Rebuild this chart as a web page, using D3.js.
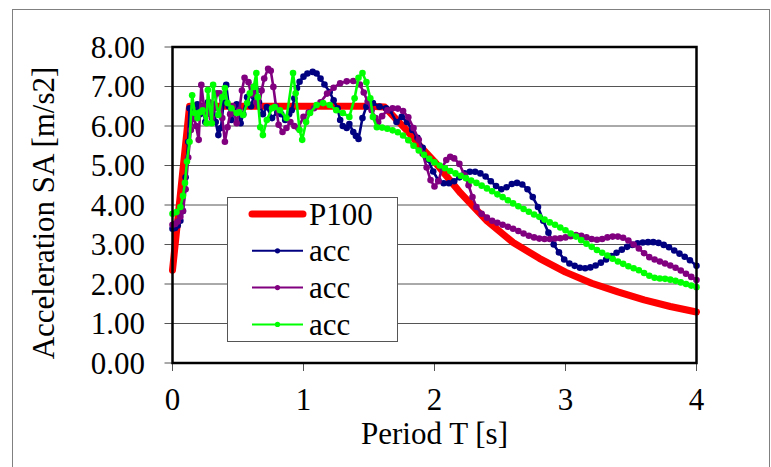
<!DOCTYPE html>
<html>
<head>
<meta charset="utf-8">
<script src="https://cdn.jsdelivr.net/npm/d3@7"></script>
<style>
  body { margin: 0; background: #fff; }
  svg { display: block; font-family: "Liberation Serif", "Times New Roman", serif; }
</style>
</head>
<body>
<svg id="chart" width="771" height="467"></svg>
<script>
const yTicks = [0, 1, 2, 3, 4, 5, 6, 7, 8];
const xTicks = [0, 1, 2, 3, 4];
const legendLabels = ["P100", "acc", "acc", "acc"];

const p100T = [0, 0.13, 0.5, 1.0, 1.5, 1.62, 1.7, 1.8, 1.9, 2.0, 2.2, 2.4, 2.6, 2.8, 3.0, 3.2, 3.4, 3.6, 3.8, 4.0];
const p100A = [2.35, 6.5, 6.5, 6.5, 6.5, 6.48, 6.2, 5.85, 5.45, 5.1, 4.3, 3.6, 3.05, 2.65, 2.3, 2.02, 1.8, 1.6, 1.43, 1.29];

const navyT = [0, 0.02, 0.04, 0.06, 0.08, 0.10, 0.12, 0.13, 0.15, 0.17, 0.19, 0.21, 0.23, 0.25, 0.27, 0.29, 0.31, 0.33, 0.35, 0.37,
  0.39, 0.41, 0.43, 0.45, 0.47, 0.49, 0.52, 0.54, 0.57, 0.60, 0.62, 0.64, 0.66, 0.69, 0.72, 0.76, 0.80, 0.83, 0.86, 0.89,
  0.91, 0.93, 0.95, 0.97, 1.00, 1.03, 1.07, 1.10, 1.13, 1.16, 1.20, 1.23, 1.26, 1.28, 1.30, 1.33, 1.35, 1.38, 1.40, 1.42,
  1.45, 1.48, 1.53, 1.58, 1.63, 1.66, 1.71, 1.75, 1.79, 1.83, 1.87, 1.91, 1.95, 1.99, 2.03, 2.07, 2.11, 2.15, 2.19, 2.23,
  2.27, 2.31, 2.35, 2.39, 2.43, 2.47, 2.51, 2.55, 2.59, 2.63, 2.67, 2.71, 2.75, 2.79, 2.83, 2.87, 2.91, 2.95, 2.99, 3.03,
  3.07, 3.11, 3.15, 3.19, 3.23, 3.27, 3.31, 3.35, 3.39, 3.43, 3.47, 3.51, 3.55, 3.59, 3.63, 3.67, 3.71, 3.75, 3.79, 3.83,
  3.87, 3.91, 3.95, 4.00];
const navyA = [3.40, 3.42, 3.48, 3.6, 3.85, 4.7, 5.6, 6.45, 6.4, 6.2, 6.55, 6.3, 6.5, 6.1, 6.6, 6.35, 6.55, 6.1, 5.77, 5.95,
  6.6, 7.04, 6.5, 6.15, 6.4, 6.55, 6.07, 6.3, 6.73, 6.5, 6.75, 6.91, 6.6, 6.3, 6.48, 6.2, 6.35, 6.3, 6.15, 6.3,
  6.4, 6.7, 6.96, 7.12, 7.25, 7.33, 7.37, 7.33, 7.2, 7.05, 6.86, 6.65, 6.45, 6.15, 6.0, 5.95, 6.05, 5.85, 5.75, 5.67,
  6.2, 6.49, 6.58, 6.49, 6.45, 6.4, 6.1, 6.23, 6.1, 5.9, 5.7, 5.45, 5.15, 4.85, 4.62, 4.55, 4.55, 4.6, 4.7, 4.8,
  4.84, 4.84, 4.8, 4.72, 4.6, 4.48, 4.40, 4.45, 4.53, 4.56, 4.52, 4.4, 4.2, 3.95, 3.6, 3.3, 3.0, 2.8, 2.62, 2.52,
  2.46, 2.41, 2.4, 2.42, 2.47, 2.54, 2.62, 2.71, 2.79, 2.87, 2.94, 2.99, 3.03, 3.05, 3.06, 3.06, 3.04, 2.99, 2.93, 2.85,
  2.77, 2.69, 2.6, 2.46];

const purpleT = [0, 0.02, 0.04, 0.06, 0.08, 0.10, 0.12, 0.14, 0.16, 0.18, 0.20, 0.22, 0.24, 0.26, 0.28, 0.30, 0.32, 0.34, 0.36, 0.38,
  0.40, 0.42, 0.44, 0.46, 0.49, 0.51, 0.53, 0.55, 0.58, 0.60, 0.62, 0.64, 0.66, 0.68, 0.70, 0.73, 0.75, 0.77, 0.79, 0.81,
  0.84, 0.87, 0.90, 0.93, 0.96, 1.00, 1.04, 1.08, 1.13, 1.18, 1.23, 1.28, 1.33, 1.38, 1.43, 1.46, 1.49, 1.52, 1.55, 1.57,
  1.60, 1.64, 1.68, 1.72, 1.76, 1.80, 1.84, 1.88, 1.91, 1.94, 1.97, 2.00, 2.03, 2.06, 2.09, 2.12, 2.15, 2.19, 2.23, 2.26,
  2.29, 2.32, 2.36, 2.40, 2.44, 2.48, 2.52, 2.56, 2.60, 2.64, 2.68, 2.72, 2.76, 2.80, 2.84, 2.88, 2.92, 2.96, 3.00, 3.04,
  3.08, 3.12, 3.16, 3.20, 3.24, 3.28, 3.32, 3.36, 3.40, 3.44, 3.48, 3.52, 3.56, 3.60, 3.64, 3.68, 3.72, 3.76, 3.80, 3.84,
  3.88, 3.92, 3.96, 4.00];
const purpleA = [3.5, 3.52, 3.58, 3.7, 3.85, 4.4, 5.2, 5.9, 6.3, 6.0, 5.65, 7.04, 6.5, 6.3, 6.6, 6.2, 6.45, 6.83, 6.83, 6.2,
  5.6, 5.97, 6.3, 6.5, 6.07, 6.4, 6.9, 7.22, 7.11, 6.8, 6.99, 6.6, 6.5, 6.9, 7.2, 7.45, 7.4, 6.99, 6.5, 6.03,
  5.85, 5.95, 6.1, 6.0, 5.95, 6.23, 6.35, 6.45, 6.6, 6.82, 6.97, 7.08, 7.13, 7.14, 7.05, 6.85, 6.62, 6.4, 6.2, 6.1,
  6.25, 6.4, 6.45, 6.44, 6.38, 6.22, 5.95, 5.65, 5.3, 4.95, 4.63, 4.47, 4.6, 4.95, 5.14, 5.22, 5.18, 5.04, 4.75, 4.5,
  4.2, 3.95, 3.78, 3.68, 3.6, 3.55, 3.5, 3.45, 3.4, 3.34, 3.28, 3.22, 3.18, 3.15, 3.14, 3.14, 3.15, 3.16, 3.18, 3.21,
  3.24, 3.22, 3.18, 3.14, 3.12, 3.14, 3.18, 3.2, 3.2, 3.17, 3.1, 3.0, 2.9, 2.78, 2.68, 2.62, 2.57, 2.52, 2.47, 2.41,
  2.34, 2.26, 2.18, 2.1];

const greenT = [0, 0.03, 0.06, 0.08, 0.095, 0.11, 0.13, 0.15, 0.17, 0.19, 0.21, 0.23, 0.26, 0.27, 0.30, 0.31, 0.35, 0.38, 0.40, 0.42,
  0.45, 0.49, 0.51, 0.54, 0.57, 0.59, 0.62, 0.64, 0.65, 0.67, 0.69, 0.72, 0.76, 0.78, 0.82, 0.87, 0.92, 0.94, 0.97, 0.99,
  1.02, 1.05, 1.10, 1.15, 1.20, 1.25, 1.30, 1.35, 1.39, 1.42, 1.45, 1.48, 1.51, 1.53, 1.56, 1.60, 1.64, 1.68, 1.72, 1.76,
  1.80, 1.84, 1.88, 1.92, 1.96, 2.00, 2.04, 2.08, 2.12, 2.16, 2.20, 2.24, 2.28, 2.32, 2.36, 2.40, 2.44, 2.48, 2.52, 2.56,
  2.60, 2.64, 2.68, 2.72, 2.76, 2.80, 2.84, 2.88, 2.92, 2.96, 3.00, 3.04, 3.08, 3.12, 3.16, 3.20, 3.24, 3.28, 3.32, 3.36,
  3.40, 3.44, 3.48, 3.52, 3.56, 3.60, 3.64, 3.68, 3.72, 3.76, 3.80, 3.84, 3.88, 3.92, 3.96, 4.00];
const greenA = [3.78, 3.82, 3.95, 4.23, 4.56, 5.1, 5.6, 6.78, 6.33, 6.2, 6.35, 6.4, 6.07, 6.91, 6.07, 7.04, 6.28, 6.73, 6.96, 6.58,
  6.45, 6.33, 6.35, 6.28, 6.58, 6.83, 6.99, 7.34, 6.73, 5.97, 5.77, 6.15, 6.45, 6.48, 6.4, 6.2, 7.34, 6.83, 5.9, 5.65,
  6.1, 6.33, 6.53, 6.58, 6.53, 6.4, 6.33, 6.23, 6.7, 7.22, 7.34, 7.11, 6.7, 6.23, 5.97, 5.96, 5.93, 5.89, 5.84, 5.76,
  5.64, 5.5, 5.38, 5.27, 5.17, 5.08, 5.0, 4.93, 4.86, 4.8, 4.74, 4.68, 4.62, 4.56, 4.49, 4.42, 4.35, 4.27, 4.2, 4.12,
  4.04, 3.97, 3.9, 3.83, 3.76, 3.7, 3.63, 3.56, 3.5, 3.43, 3.36, 3.28, 3.2, 3.11, 3.02, 2.94, 2.86, 2.79, 2.72, 2.64,
  2.57, 2.51, 2.45, 2.4, 2.35, 2.28, 2.21, 2.16, 2.14, 2.13, 2.11, 2.08, 2.04, 2.0, 1.96, 1.92];

const series = [
  {T: p100T, A: p100A, color: "#ff0000", width: 7, markers: false},
  {T: navyT, A: navyA, color: "#000080", width: 2.6, markers: true},
  {T: purpleT, A: purpleA, color: "#800080", width: 2.6, markers: true},
  {T: greenT, A: greenA, color: "#00ff00", width: 2.6, markers: true}
];

const svg = d3.select("#chart");
const plot = {left: 172.5, right: 696.5, top: 47, bottom: 363};
const font = "31px";

const x = d3.scaleLinear().domain([0, 4]).range([plot.left, plot.right]);
const y = d3.scaleLinear().domain([0, 8]).range([plot.bottom, plot.top]);

// outer frame
svg.append("rect").attr("x", 12.5).attr("y", 9.5).attr("width", 757).attr("height", 480)
  .attr("fill", "none").attr("stroke", "#808080").attr("stroke-width", 1);

// gridlines + ticks
svg.append("g").selectAll("line").data(yTicks.slice(1)).enter().append("line")
  .attr("x1", plot.left - 8).attr("x2", plot.right).attr("y1", d => y(d)).attr("y2", d => y(d))
  .attr("stroke", "#555").attr("stroke-width", 1);
svg.append("line").attr("x1", plot.left - 8).attr("x2", plot.left).attr("y1", y(0)).attr("y2", y(0))
  .attr("stroke", "#555");

svg.append("g").selectAll("line").data(xTicks).enter().append("line")
  .attr("x1", d => x(d)).attr("x2", d => x(d)).attr("y1", plot.bottom).attr("y2", plot.bottom + 8)
  .attr("stroke", "#555").attr("stroke-width", 1);

svg.append("g").selectAll("text").data(yTicks).enter().append("text")
  .attr("x", 145).attr("y", d => y(d)).attr("dy", "0.35em").attr("text-anchor", "end")
  .attr("font-size", font).text(d => d3.format(".2f")(d));

svg.append("g").selectAll("text").data(xTicks).enter().append("text")
  .attr("x", d => x(d)).attr("y", 410).attr("text-anchor", "middle")
  .attr("font-size", font).text(d => d);

svg.append("text").attr("x", (plot.left + plot.right) / 2).attr("y", 444).attr("text-anchor", "middle")
  .attr("font-size", font).text("Period T [s]");
svg.append("text").attr("transform", "translate(54,213) rotate(-90)").attr("text-anchor", "middle")
  .attr("font-size", font).text("Acceleration SA [m/s2]");

// series
const line = d3.line().x(d => x(d[0])).y(d => y(d[1]));
series.forEach(s => {
  const pts = s.T.map((t, i) => [t, s.A[i]]);
  svg.append("path").datum(pts).attr("fill", "none").attr("stroke", s.color)
    .attr("stroke-width", s.width).attr("stroke-linejoin", "round").attr("stroke-linecap", "round").attr("d", line);
  if (s.markers) {
    svg.append("g").selectAll("circle").data(pts).enter().append("circle")
      .attr("cx", d => x(d[0])).attr("cy", d => y(d[1])).attr("r", 3.3).attr("fill", s.color);
  }
});

// plot frame
svg.append("rect").attr("x", plot.left).attr("y", plot.top).attr("width", plot.right - plot.left)
  .attr("height", plot.bottom - plot.top).attr("fill", "none").attr("stroke", "#000").attr("stroke-width", 2.5);

// legend
const lg = svg.append("g");
lg.append("rect").attr("x", 227.5).attr("y", 197.5).attr("width", 170).attr("height", 144)
  .attr("fill", "#fff").attr("stroke", "#555").attr("stroke-width", 1);
legendLabels.forEach((label, i) => {
  const s = series[i];
  const cy = 214 + i * 36.8;
  lg.append("line").attr("x1", 252).attr("x2", 303).attr("y1", cy).attr("y2", cy)
    .attr("stroke", s.color).attr("stroke-width", s.markers ? 2 : s.width).attr("stroke-linecap", s.markers ? "butt" : "round");
  if (s.markers) lg.append("circle").attr("cx", 277.5).attr("cy", cy).attr("r", 2.6).attr("fill", s.color);
  lg.append("text").attr("x", 309).attr("y", cy + 10.5).attr("font-size", font).text(label);
});
</script>
</body>
</html>
